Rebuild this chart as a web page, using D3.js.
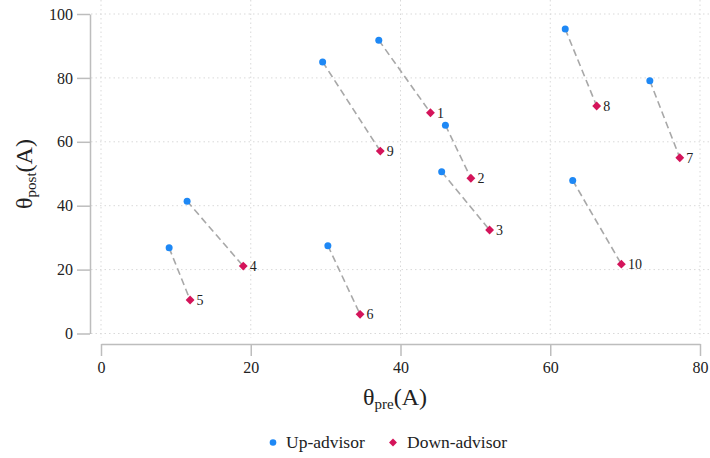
<!DOCTYPE html>
<html><head><meta charset="utf-8">
<script src="https://cdn.jsdelivr.net/npm/d3@7"></script>
<style>body{margin:0;background:#fff}svg{display:block}svg text{font-family:"Liberation Serif",serif}</style>
</head><body><svg id="c" width="710" height="458"></svg>
<script>
const ids = ["1","2","3","4","5","6","7","8","9","10"];
const upPre   = [37.1, 46.0, 45.5, 11.5, 9.1, 30.3, 73.3, 62.0, 29.6, 63.0];
const upPost  = [91.8, 65.2, 50.6, 41.4, 26.8, 27.5, 79.1, 95.3, 85.0, 47.9];
const downPre = [44.0, 49.4, 51.9, 19.0, 11.9, 34.6, 77.3, 66.2, 37.3, 69.5];
const downPost= [69.1, 48.6, 32.4, 21.1, 10.5, 6.0, 55.0, 71.2, 57.1, 21.7];
const xTicks = [0,20,40,60,80];
const yTicks = [0,20,40,60,80,100];
const seriesNames = ["Up-advisor","Down-advisor"];

const FONT = "Liberation Serif";
const blue = "#1e88f5", red = "#d4145a";
const svg = d3.select("#c");
const x = d3.scaleLinear().domain([0,80]).range([101,700]);
const y = d3.scaleLinear().domain([0,100]).range([333.5,14]);

// grid
const g = svg.append("g");
g.selectAll(".gx").data(xTicks).join("line")
  .attr("x1",d=>x(d)).attr("x2",d=>x(d)).attr("y1",0).attr("y2",338)
  .attr("stroke","#d9d9d9").attr("stroke-dasharray","1.5,3").attr("stroke-width",1);
g.selectAll(".gy").data(yTicks).join("line")
  .attr("x1",91).attr("x2",710).attr("y1",d=>y(d)).attr("y2",d=>y(d))
  .attr("stroke","#d9d9d9").attr("stroke-dasharray","1.5,3").attr("stroke-width",1);

// axes
const ax = svg.append("g").attr("transform","translate(0,344)")
  .call(d3.axisBottom(x).tickValues(xTicks).tickSize(12).tickPadding(6).tickSizeOuter(0));
const ay = svg.append("g").attr("transform","translate(90,0)")
  .call(d3.axisLeft(y).tickValues(yTicks).tickSize(13).tickPadding(4).tickSizeOuter(0));
[ax,ay].forEach(a=>{
  a.attr("font-family",FONT).attr("font-size",16);
  a.selectAll("path,line").attr("stroke","#bdbdbd").attr("stroke-width",1.5);
  a.selectAll("text").attr("fill","#222");
});

// connectors
const idx = d3.range(ids.length);
svg.append("g").selectAll("line").data(idx).join("line")
  .attr("x1",i=>x(upPre[i])).attr("y1",i=>y(upPost[i]))
  .attr("x2",i=>x(downPre[i])).attr("y2",i=>y(downPost[i]))
  .attr("stroke","#a8a8a8").attr("stroke-width",1.6).attr("stroke-dasharray","7,4");

// points
svg.append("g").selectAll("circle").data(idx).join("circle")
  .attr("cx",i=>x(upPre[i])).attr("cy",i=>y(upPost[i])).attr("r",3.5).attr("fill",blue);
const dia = d3.symbol().type(d3.symbolDiamond2).size(50);
svg.append("g").selectAll("path").data(idx).join("path")
  .attr("d",dia).attr("transform",i=>`translate(${x(downPre[i])},${y(downPost[i])})`).attr("fill",red);
svg.append("g").selectAll("text").data(idx).join("text")
  .attr("x",i=>x(downPre[i])+6.5).attr("y",i=>y(downPost[i])+5)
  .attr("font-family",FONT).attr("font-size",14).attr("fill","#222").text(i=>ids[i]);

// axis titles
const xt = svg.append("text").attr("x",395).attr("y",405).attr("text-anchor","middle")
  .attr("font-family",FONT).attr("font-size",24).attr("fill","#222");
xt.append("tspan").text("θ");
xt.append("tspan").attr("font-size",15).attr("dy",4).text("pre");
xt.append("tspan").attr("dy",-4).text("(A)");
const yt = svg.append("text").attr("transform","translate(32,174) rotate(-90)").attr("text-anchor","middle")
  .attr("font-family",FONT).attr("font-size",24).attr("fill","#222");
yt.append("tspan").text("θ");
yt.append("tspan").attr("font-size",15).attr("dy",4).text("post");
yt.append("tspan").attr("dy",-4).text("(A)");

// legend
const lg = svg.append("g").attr("font-family",FONT).attr("font-size",17.5).attr("fill","#222");
lg.append("circle").attr("cx",273).attr("cy",442.5).attr("r",3.3).attr("fill",blue);
lg.append("text").attr("x",286).attr("y",448).text(seriesNames[0]);
lg.append("path").attr("d",d3.symbol().type(d3.symbolDiamond2).size(40)).attr("transform","translate(393,442.5)").attr("fill",red);
lg.append("text").attr("x",407).attr("y",448).text(seriesNames[1]);
</script></body></html>
